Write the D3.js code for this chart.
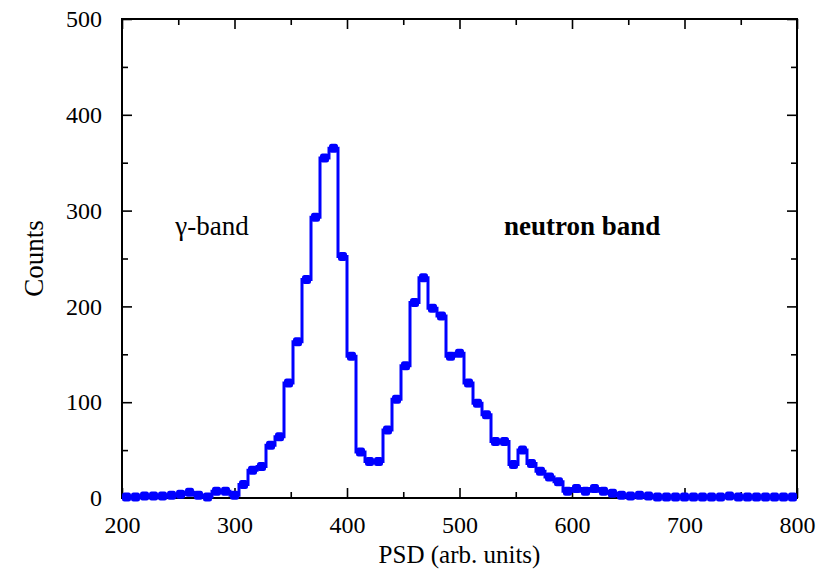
<!DOCTYPE html>
<html>
<head>
<meta charset="utf-8">
<script src="https://cdn.jsdelivr.net/npm/d3@7"></script>
<style>
  html, body { margin: 0; padding: 0; background: #fff; }
  svg { display: block; }
  .tick text { font-family: "Liberation Serif", "DejaVu Serif", serif; }
</style>
</head>
<body>
<svg id="chart" width="828" height="577"></svg>
<script>
// PSD histogram: bin centres (arb. units) and counts per bin
const binCenters = d3.range(204, 800, 8);
const counts = [
  1, 1, 2, 2, 2, 3, 4, 6, 3, 1, 7, 7,          // 204 - 292
  3, 14, 29, 33, 55, 64, 120, 163, 228, 293,   // 300 - 372
  355, 365, 252, 148, 48, 38, 38, 71, 103,     // 380 - 444
  138, 204, 230, 198, 190, 148, 151, 120, 99,  // 452 - 516
  87, 59, 59, 35, 50, 36, 28, 22, 17, 7,       // 524 - 596
  10, 7, 10, 7, 5, 3, 2, 3, 2, 1,              // 604 - 676
  1, 1, 1, 1, 1, 1, 1, 2, 1, 1,                // 684 - 756
  1, 1, 1, 1, 1                                // 764 - 796
];
const xTicks = [200, 300, 400, 500, 600, 700, 800];
const yTicks = [0, 100, 200, 300, 400, 500];
const xMinor = [250, 350, 450, 550, 650, 750];
const yMinor = [50, 150, 250, 350, 450];
const annotations = [
  { text: "\u03b3-band", x: 280, y: 275, bold: false },
  { text: "neutron band", x: 609, y: 275, bold: true }
];

const W = 828, H = 577;
const margin = { top: 19, right: 31, bottom: 79, left: 122 };
const iw = W - margin.left - margin.right;
const ih = H - margin.top - margin.bottom;

const svg = d3.select("#chart");
const g = svg.append("g").attr("transform", `translate(${margin.left},${margin.top})`);

const x = d3.scaleLinear().domain([200, 800]).range([0, iw]);
const y = d3.scaleLinear().domain([0, 500]).range([ih, 0]);

const data = binCenters.map((c, i) => ({ x: c, y: counts[i] }));

const fontFamily = '"Liberation Serif", "DejaVu Serif", serif';
const major = 10, minor = 6;

// Axes with inward ticks on all four sides
function styleAxis(sel) {
  sel.select(".domain").remove();
  sel.selectAll(".tick line").attr("stroke", "#000").attr("stroke-width", 1.6);
  sel.selectAll(".tick text").attr("font-size", 24).attr("fill", "#000");
}

g.append("g")
  .attr("transform", `translate(0,${ih})`)
  .call(d3.axisBottom(x).tickValues(xTicks).tickFormat(d3.format("d"))
        .tickSizeInner(-major).tickSizeOuter(0).tickPadding(18))
  .call(styleAxis);
g.append("g")
  .attr("transform", `translate(0,${ih})`)
  .call(d3.axisBottom(x).tickValues(xMinor).tickFormat("").tickSizeInner(-minor).tickSizeOuter(0))
  .call(styleAxis);
g.append("g")
  .call(d3.axisTop(x).tickValues(xTicks).tickFormat("").tickSizeInner(-major).tickSizeOuter(0))
  .call(styleAxis);
g.append("g")
  .call(d3.axisTop(x).tickValues(xMinor).tickFormat("").tickSizeInner(-minor).tickSizeOuter(0))
  .call(styleAxis);

g.append("g")
  .call(d3.axisLeft(y).tickValues(yTicks).tickFormat(d3.format("d"))
        .tickSizeInner(-major).tickSizeOuter(0).tickPadding(20))
  .call(styleAxis);
g.append("g")
  .call(d3.axisLeft(y).tickValues(yMinor).tickFormat("").tickSizeInner(-minor).tickSizeOuter(0))
  .call(styleAxis);
g.append("g")
  .attr("transform", `translate(${iw},0)`)
  .call(d3.axisRight(y).tickValues(yTicks).tickFormat("").tickSizeInner(-major).tickSizeOuter(0))
  .call(styleAxis);
g.append("g")
  .attr("transform", `translate(${iw},0)`)
  .call(d3.axisRight(y).tickValues(yMinor).tickFormat("").tickSizeInner(-minor).tickSizeOuter(0))
  .call(styleAxis);

// Frame
g.append("rect")
  .attr("x", 0).attr("y", 0).attr("width", iw).attr("height", ih)
  .attr("fill", "none").attr("stroke", "#000").attr("stroke-width", 2);

// Step histogram
const line = d3.line().x(d => x(d.x)).y(d => y(d.y)).curve(d3.curveStep);
g.append("path")
  .datum(data)
  .attr("d", line)
  .attr("fill", "none")
  .attr("stroke", "#0000ff")
  .attr("stroke-width", 3)
  .attr("stroke-linejoin", "miter");

// Markers at bin centres
const ms = 9;
g.selectAll("rect.pt")
  .data(data)
  .join("rect")
  .attr("class", "pt")
  .attr("x", d => x(d.x) - ms / 2)
  .attr("y", d => y(d.y) - ms / 2)
  .attr("width", ms)
  .attr("height", ms)
  .attr("rx", 2.5)
  .attr("fill", "#0000ff");

// Band labels
g.selectAll("text.ann")
  .data(annotations)
  .join("text")
  .attr("class", "ann")
  .attr("x", d => x(d.x))
  .attr("y", d => y(d.y))
  .attr("text-anchor", "middle")
  .attr("font-family", fontFamily)
  .attr("font-size", 27)
  .attr("font-weight", d => d.bold ? "bold" : "normal")
  .attr("fill", "#000")
  .text(d => d.text);

// Axis titles
svg.append("text")
  .attr("x", margin.left + iw / 2)
  .attr("y", 563)
  .attr("text-anchor", "middle")
  .attr("font-family", fontFamily)
  .attr("font-size", 25)
  .text("PSD (arb. units)");

svg.append("text")
  .attr("transform", `translate(43,${margin.top + ih / 2}) rotate(-90)`)
  .attr("text-anchor", "middle")
  .attr("font-family", fontFamily)
  .attr("font-size", 27)
  .text("Counts");
</script>
</body>
</html>
